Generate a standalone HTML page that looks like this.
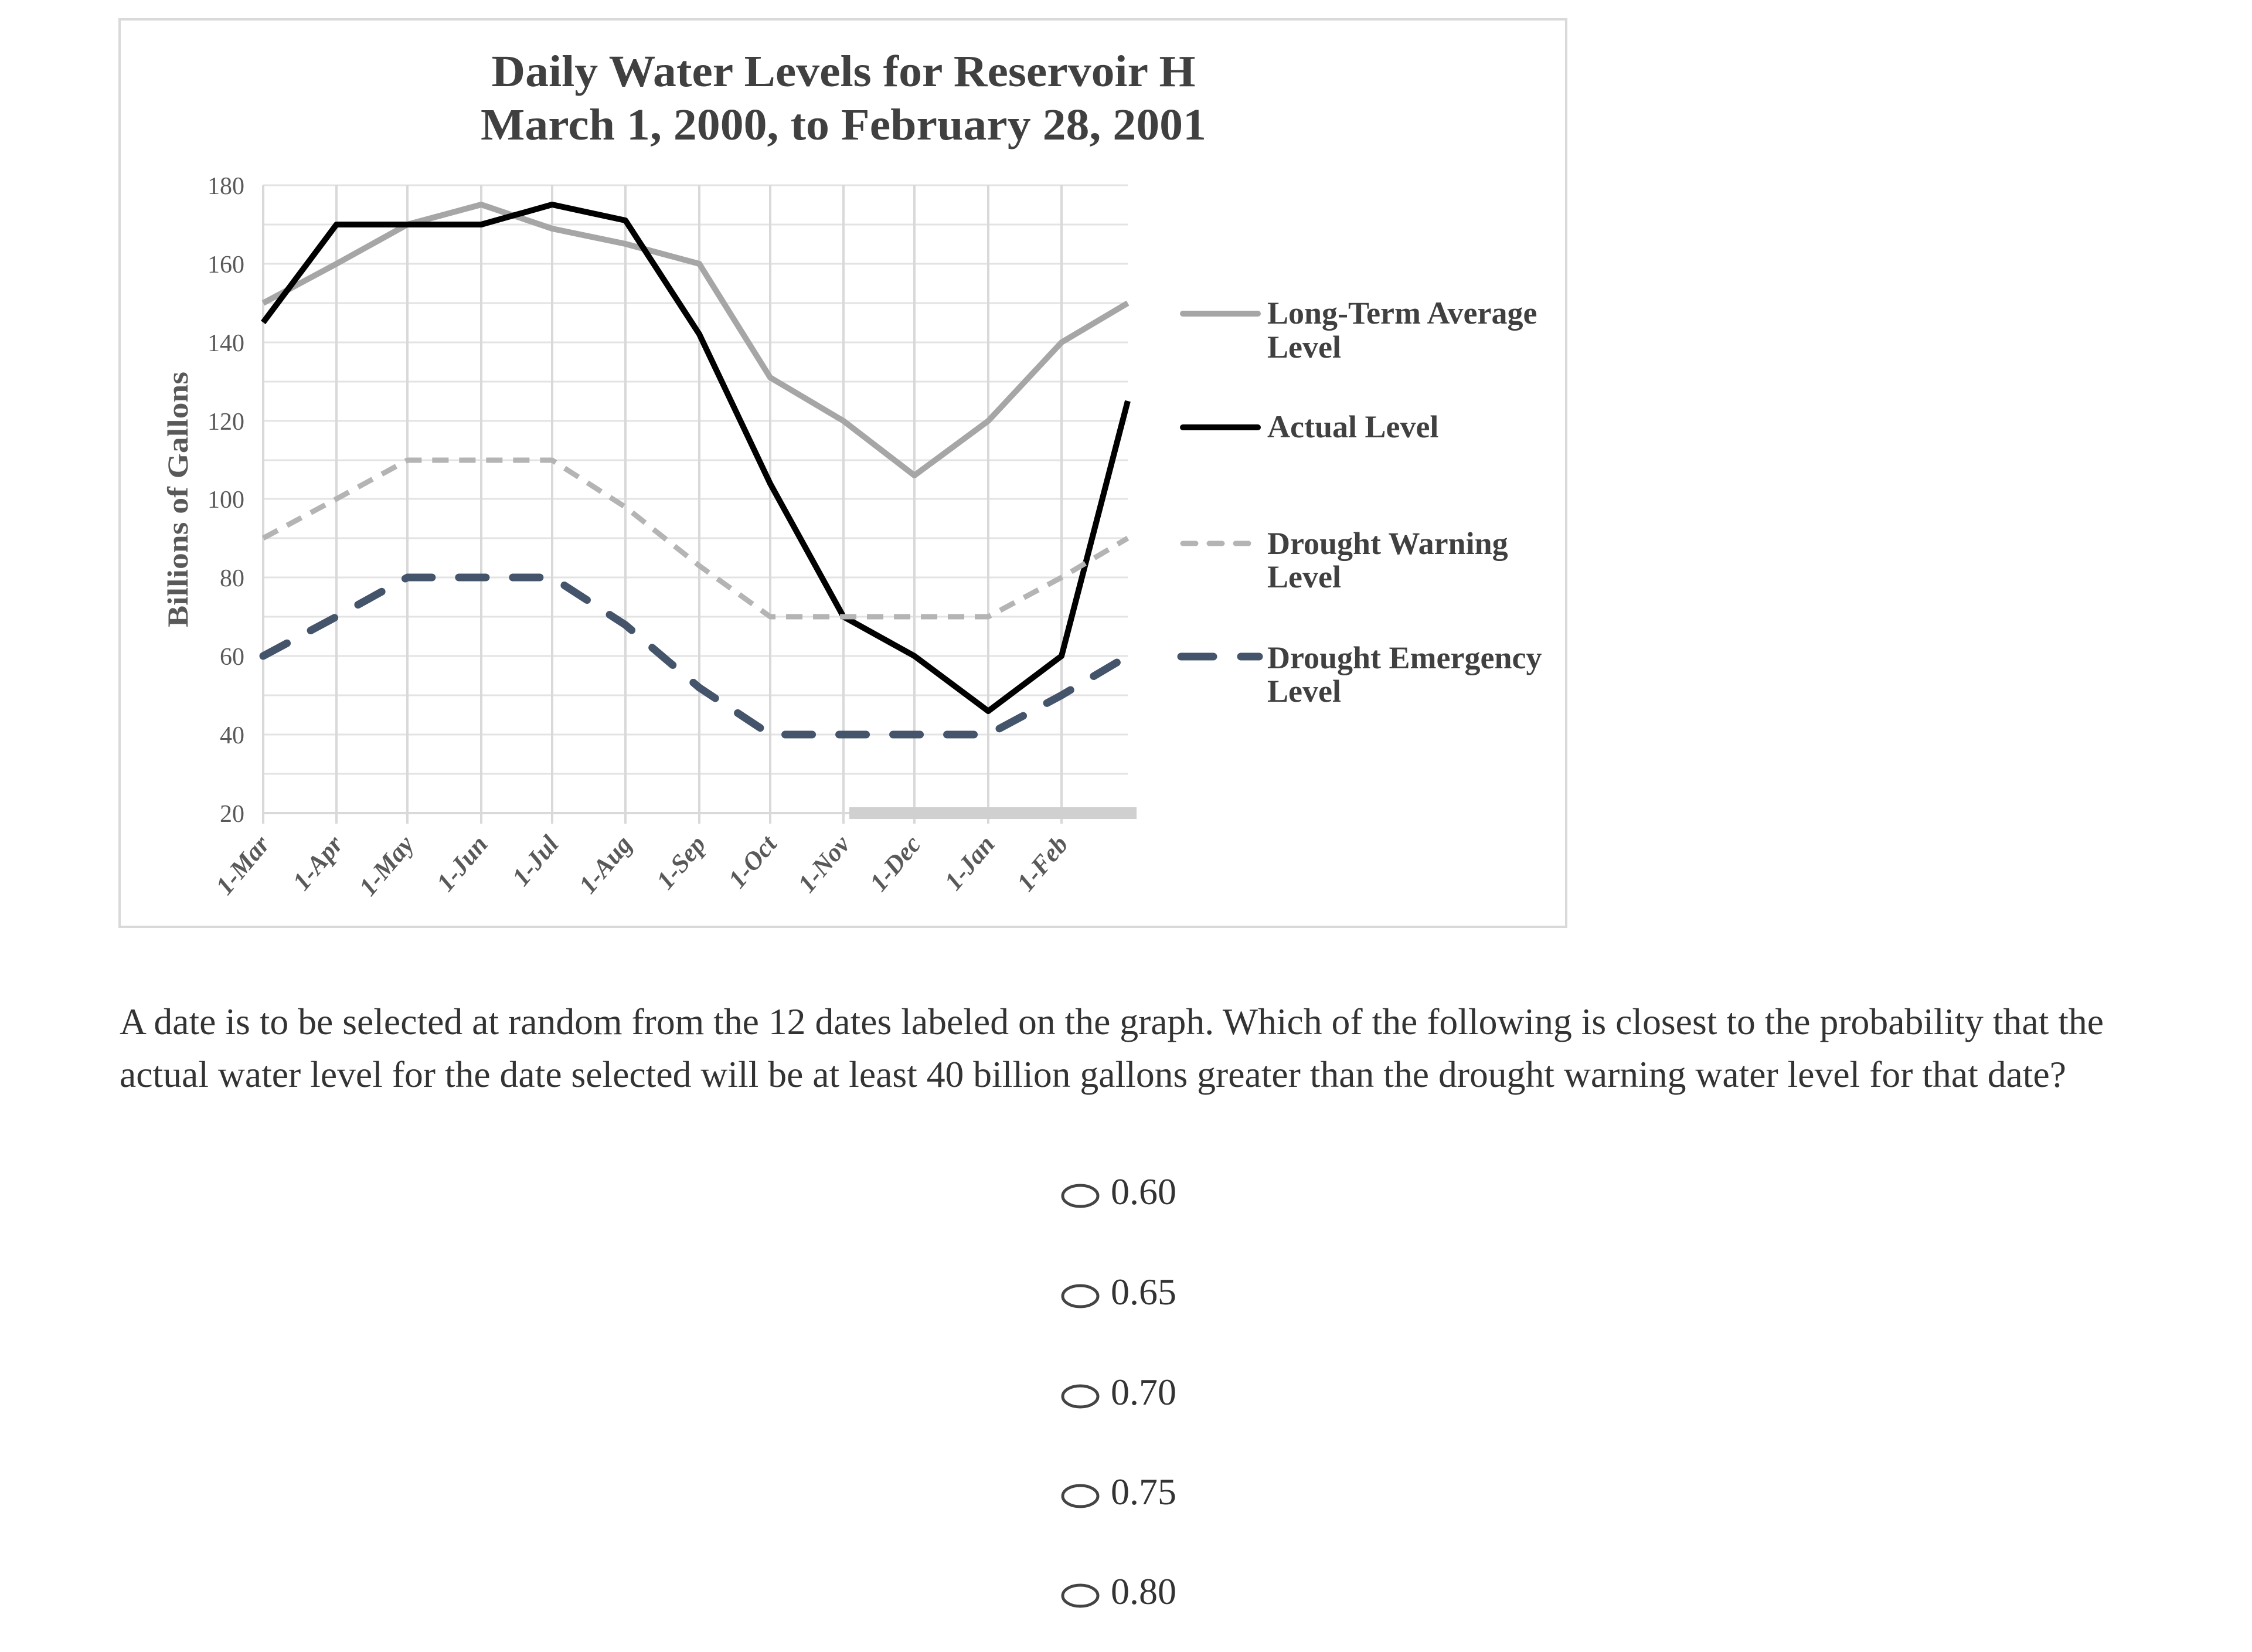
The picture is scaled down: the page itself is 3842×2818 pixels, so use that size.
<!DOCTYPE html>
<html><head><meta charset="utf-8"><style>html,body{margin:0;padding:0;background:#fff}svg{display:block}</style></head>
<body>
<svg width="3842" height="2818" viewBox="0 0 3842 2818" xmlns="http://www.w3.org/2000/svg">
<rect x="0" y="0" width="3842" height="2818" fill="#fff"/>
<rect x="204" y="33" width="2468" height="1548" fill="#fff" stroke="#d9d9d9" stroke-width="4"/>
<g font-family="Liberation Serif, serif" font-weight="bold" fill="#404040" text-anchor="middle" font-size="76">
<text x="1439" y="147" textLength="1201" lengthAdjust="spacingAndGlyphs">Daily Water Levels for Reservoir H</text>
<text x="1439" y="238" textLength="1238" lengthAdjust="spacingAndGlyphs">March 1, 2000, to February 28, 2001</text>
</g>
<g stroke="#e3e3e3" stroke-width="3">
<line x1="449" y1="316" x2="1924" y2="316"/><line x1="449" y1="383" x2="1924" y2="383"/>
<line x1="449" y1="450" x2="1924" y2="450"/><line x1="449" y1="517" x2="1924" y2="517"/>
<line x1="449" y1="584" x2="1924" y2="584"/><line x1="449" y1="651" x2="1924" y2="651"/>
<line x1="449" y1="718" x2="1924" y2="718"/><line x1="449" y1="785" x2="1924" y2="785"/>
<line x1="449" y1="851" x2="1924" y2="851"/><line x1="449" y1="918" x2="1924" y2="918"/>
<line x1="449" y1="985" x2="1924" y2="985"/><line x1="449" y1="1052" x2="1924" y2="1052"/>
<line x1="449" y1="1119" x2="1924" y2="1119"/><line x1="449" y1="1186" x2="1924" y2="1186"/>
<line x1="449" y1="1253" x2="1924" y2="1253"/><line x1="449" y1="1320" x2="1924" y2="1320"/>
</g>
<g stroke="#d9d9d9" stroke-width="4">
<line x1="449" y1="1387" x2="1924" y2="1387"/>
<line x1="449" y1="316" x2="449" y2="1405"/><line x1="574" y1="316" x2="574" y2="1405"/>
<line x1="695" y1="316" x2="695" y2="1405"/><line x1="821" y1="316" x2="821" y2="1405"/>
<line x1="942" y1="316" x2="942" y2="1405"/><line x1="1067" y1="316" x2="1067" y2="1405"/>
<line x1="1193" y1="316" x2="1193" y2="1405"/><line x1="1314" y1="316" x2="1314" y2="1405"/>
<line x1="1439" y1="316" x2="1439" y2="1405"/><line x1="1560" y1="316" x2="1560" y2="1405"/>
<line x1="1686" y1="316" x2="1686" y2="1405"/><line x1="1811" y1="316" x2="1811" y2="1405"/>
</g>
<rect x="1449" y="1377" width="490" height="20" fill="#d0d0d0"/>
<g font-family="Liberation Serif, serif" font-size="42" fill="#595959" text-anchor="end">
<text x="417" y="331">180</text><text x="417" y="465">160</text><text x="417" y="599">140</text>
<text x="417" y="733">120</text><text x="417" y="866">100</text><text x="417" y="1000">80</text>
<text x="417" y="1134">60</text><text x="417" y="1268">40</text><text x="417" y="1402">20</text>
</g>
<text transform="translate(320,852) rotate(-90)" font-family="Liberation Serif, serif" font-weight="bold" font-size="50" fill="#595959" text-anchor="middle" textLength="436" lengthAdjust="spacingAndGlyphs">Billions of Gallons</text>
<g font-family="Liberation Serif, serif" font-weight="bold" font-style="italic" font-size="44" fill="#595959" text-anchor="end">
<text transform="translate(462,1441) rotate(-50)">1-Mar</text>
<text transform="translate(587,1441) rotate(-50)">1-Apr</text>
<text transform="translate(708,1441) rotate(-50)">1-May</text>
<text transform="translate(834,1441) rotate(-50)">1-Jun</text>
<text transform="translate(955,1441) rotate(-50)">1-Jul</text>
<text transform="translate(1080,1441) rotate(-50)">1-Aug</text>
<text transform="translate(1206,1441) rotate(-50)">1-Sep</text>
<text transform="translate(1327,1441) rotate(-50)">1-Oct</text>
<text transform="translate(1452,1441) rotate(-50)">1-Nov</text>
<text transform="translate(1573,1441) rotate(-50)">1-Dec</text>
<text transform="translate(1699,1441) rotate(-50)">1-Jan</text>
<text transform="translate(1824,1441) rotate(-50)">1-Feb</text>
</g>
<g fill="none" stroke-linejoin="round">
<polyline stroke="#a6a6a6" stroke-width="10" points="449,517 574,450 695,383 821,349 942,390 1067,416 1193,450 1314,644 1439,718 1560,811 1686,718 1811,584 1924,517"/>
<polyline stroke="#000" stroke-width="10" points="449,550 574,383 695,383 821,383 942,349 1067,376 1193,570 1314,825 1439,1052 1560,1119 1686,1213 1811,1119 1924,684"/>
<polyline stroke="#b4b4b4" stroke-width="9" stroke-dasharray="28,18" points="449,918 574,851 695,785 821,785 942,785 1067,865 1193,965 1314,1052 1439,1052 1560,1052 1686,1052 1811,985 1924,918"/>
<polyline stroke="#44546a" stroke-width="13" stroke-dasharray="46,46" stroke-linecap="round" points="449,1119 574,1052 695,985 821,985 942,985 1067,1066 1193,1173 1314,1253 1439,1253 1560,1253 1686,1253 1811,1186 1924,1119"/>
</g>
<g stroke-linecap="round">
<line x1="2018" y1="535" x2="2146" y2="535" stroke="#a6a6a6" stroke-width="10"/>
<line x1="2018" y1="729" x2="2146" y2="729" stroke="#000" stroke-width="10"/>
<line x1="2018" y1="927" x2="2136" y2="927" stroke="#b4b4b4" stroke-width="9" stroke-dasharray="22,23"/>
<line x1="2015" y1="1120" x2="2148" y2="1120" stroke="#44546a" stroke-width="13" stroke-dasharray="55,47"/>
</g>
<g font-family="Liberation Serif, serif" font-weight="bold" font-size="54" fill="#404040">
<text x="2162" y="552">Long-Term Average</text><text x="2162" y="610">Level</text>
<text x="2162" y="746">Actual Level</text>
<text x="2162" y="945">Drought Warning</text><text x="2162" y="1002">Level</text>
<text x="2162" y="1140">Drought Emergency</text><text x="2162" y="1197">Level</text>
</g>
<g font-family="Liberation Serif, serif" font-size="64" fill="#333">
<text x="204" y="1764" textLength="3385" lengthAdjust="spacingAndGlyphs">A date is to be selected at random from the 12 dates labeled on the graph. Which of the following is closest to the probability that the</text>
<text x="204" y="1854" textLength="3321" lengthAdjust="spacingAndGlyphs">actual water level for the date selected will be at least 40 billion gallons greater than the drought warning water level for that date?</text>
<text x="1895" y="2054">0.60</text>
<text x="1895" y="2225">0.65</text>
<text x="1895" y="2396">0.70</text>
<text x="1895" y="2566">0.75</text>
<text x="1895" y="2736">0.80</text>
</g>
<g fill="none" stroke="#444" stroke-width="5">
<ellipse cx="1843" cy="2040" rx="30" ry="18"/>
<ellipse cx="1843" cy="2211" rx="30" ry="18"/>
<ellipse cx="1843" cy="2382" rx="30" ry="18"/>
<ellipse cx="1843" cy="2552" rx="30" ry="18"/>
<ellipse cx="1843" cy="2722" rx="30" ry="18"/>
</g>
</svg>
</body></html>
